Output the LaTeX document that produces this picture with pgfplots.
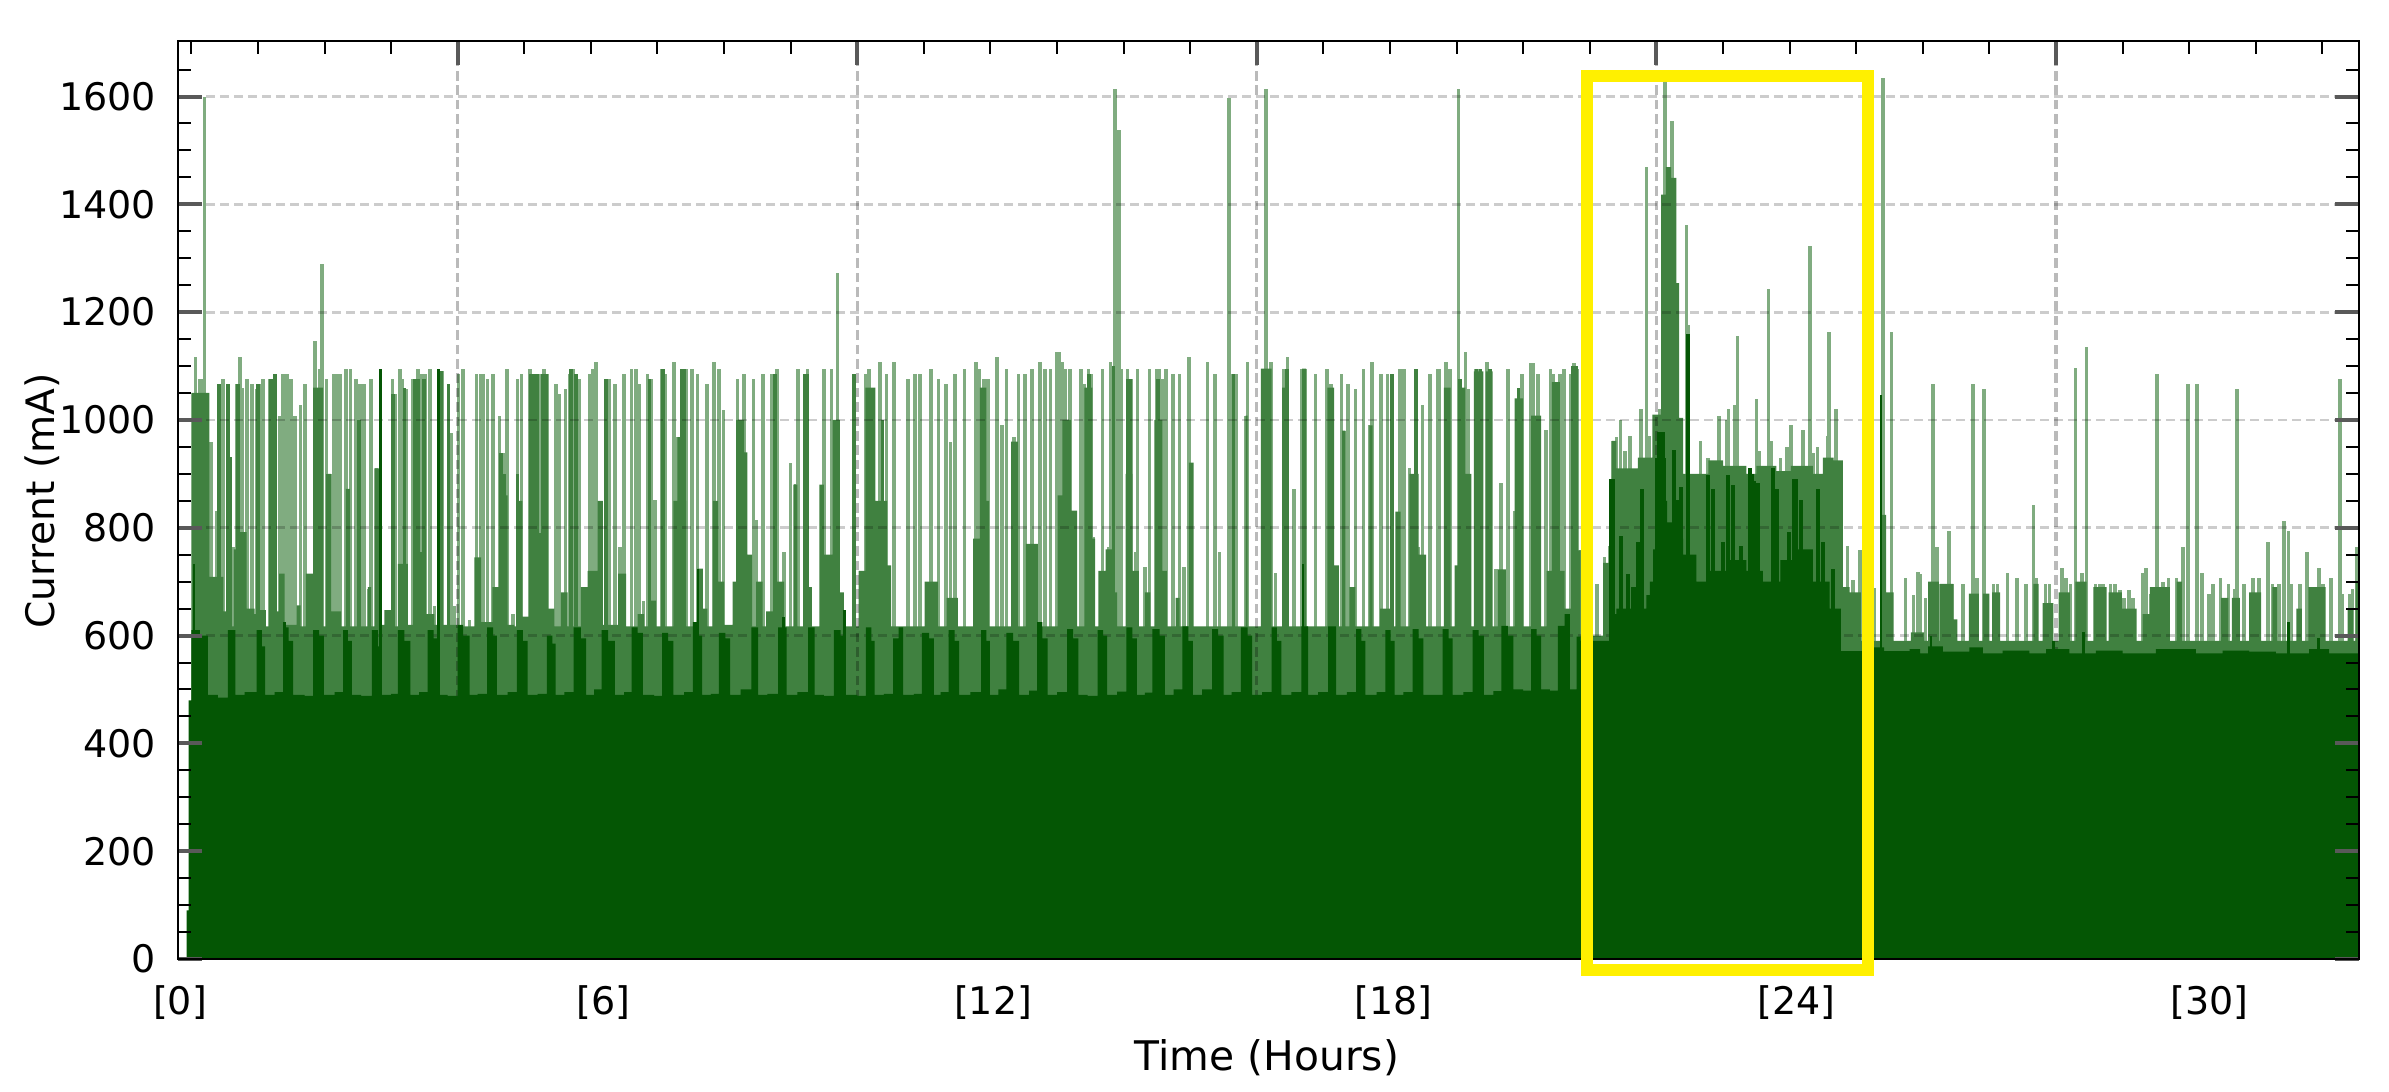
\documentclass[border=0pt]{standalone}
\usepackage{pgfplots}
\pgfplotsset{compat=1.18}
\usepackage{fontspec}
\setmainfont{DejaVu Sans}
\definecolor{lightg}{RGB}{128,172,128}
\definecolor{medg}{RGB}{64,129,64}
\definecolor{darkg}{RGB}{4,86,4}
\definecolor{yel}{RGB}{255,240,0}
\pgfplotsset{layers/chart/.define layer set={axis background,pre main,axis grid,main,axis ticks,axis lines,axis tick labels,axis descriptions,axis foreground}{
  grid style={/pgfplots/on layer=axis grid},
  tick style={/pgfplots/on layer=axis ticks},
  axis line style={/pgfplots/on layer=axis lines},
  label style={/pgfplots/on layer=axis descriptions},
  title style={/pgfplots/on layer=axis descriptions},
  legend style={/pgfplots/on layer=axis foreground},
  colorbar style={/pgfplots/on layer=axis descriptions},
  ticklabel style={/pgfplots/on layer=axis tick labels}}}
\begin{document}
\begin{tikzpicture}
\begin{axis}[
  set layers=chart,
  at={(0,0)},anchor=south west,
  scale only axis,width=545.25pt,height=229.5pt,
  xmin=0,xmax=32.75,ymin=0,ymax=1703,
  clip=false,
  axis line style={black,line width=.6pt},
  tick align=inside,
  xtick pos=upper,xticklabel pos=lower,
  ytick pos=both,yticklabel pos=left,
  xtick={4.2,10.2,16.2,22.2,28.2},
  xticklabels={,,,,},
  minor xtick={0.2,1.2,2.2,3.2,5.2,6.2,7.2,8.2,9.2,11.2,12.2,13.2,14.2,15.2,17.2,18.2,19.2,20.2,21.2,23.2,24.2,25.2,26.2,27.2,29.2,30.2,31.2,32.2},
  ytick={0,200,400,600,800,1000,1200,1400,1600},
  minor ytick={50,100,150,250,300,350,450,500,550,650,700,750,850,900,950,1050,1100,1150,1250,1300,1350,1450,1500,1550,1650},
  major tick length=6pt,minor tick length=3.2pt,
  major tick style={black!65,line width=1pt},
  minor tick style={black,line width=.5pt},
  extra x ticks={0.03,6.39,12.24,18.25,24.3,30.5},
  extra x tick labels={{[0]},{[6]},{[12]},{[18]},{[24]},{[30]}},
  extra x tick style={major tick length=0pt,grid=none,xticklabel pos=lower},
  xmajorgrids,ymajorgrids,
  x grid style={black,opacity=.27,line width=.8pt,dash pattern=on 2.4pt off 1.2pt},
  y grid style={black,opacity=.2,line width=.7pt,dash pattern=on 2.3pt off 1.2pt},
  tick label style={font=\fontsize{9.5}{10}\selectfont,/pgf/number format/assume math mode=true,/pgf/number format/1000 sep={}},
  y tick label style={xshift=-2pt},
  x tick label style={yshift=-3.2pt},
  every axis x label/.style={at={(axis description cs:0.4993,0)},anchor=center,yshift=-24.75pt,font=\fontsize{10.2}{12}\selectfont},
  every axis y label/.style={at={(axis description cs:0,0.499)},anchor=center,rotate=90,yshift=34pt,font=\fontsize{9.8}{12}\selectfont},
  xlabel={Time (Hours)},
  ylabel={Current (mA)},
]
% light spikes
\addplot[on layer=pre main,ycomb,no marks,lightg,line width=.9pt] coordinates {
(0.26,1117)(0.32,1076)(0.36,1076)(0.40,1600)(0.44,1049)(0.50,959)(0.58,832)(0.62,1067)(0.68,1076)(0.75,1067)(0.79,931)(0.84,764)(0.89,1067)(0.93,1117)(0.96,1060)(1.04,1076)(1.11,1067)(1.19,1058)(1.25,1067)(1.28,1076)(1.38,1076)(1.45,1086)(1.53,1008)(1.58,1086)(1.64,1086)(1.70,1076)(1.76,1008)(1.84,1027)(1.91,1067)(1.98,715)(2.06,1146)(2.13,1095)(2.16,1290)(2.23,1076)(2.28,900)(2.34,1086)(2.39,1086)(2.44,1086)(2.52,1095)(2.59,1095)(2.67,1076)(2.73,1067)(2.79,1067)(2.87,687)(2.90,1076)(2.98,910)(3.14,647)(3.22,1076)(3.26,1049)(3.33,1095)(3.36,1076)(3.43,1058)(3.53,1076)(3.60,1095)(3.65,1086)(3.71,1086)(3.78,1095)(3.85,655)(3.96,1090)(4.06,1067)(4.10,975)(4.15,655)(4.21,1086)(4.28,1095)(4.38,628)(4.48,1086)(4.54,1086)(4.59,1086)(4.65,1076)(4.73,1086)(4.83,1008)(4.88,938)(4.94,1095)(5.03,640)(5.10,1076)(5.16,1086)(5.29,1095)(5.34,1086)(5.39,1086)(5.44,1086)(5.50,1095)(5.54,1086)(5.59,647)(5.68,1067)(5.73,1049)(5.82,1058)(5.88,1086)(5.94,1095)(6.03,1076)(6.18,1086)(6.23,1095)(6.28,1107)(6.33,832)(6.43,1076)(6.48,1076)(6.56,1067)
(6.64,764)(6.70,1086)(6.81,1095)(6.88,1095)(6.92,1067)(6.99,665)(7.05,1086)(7.10,1076)(7.16,851)(7.27,1095)(7.31,1086)(7.45,1107)(7.50,968)(7.56,1095)(7.63,1095)(7.72,1095)(7.80,1086)(7.86,724)(7.94,1067)(8.05,1107)(8.12,1095)(8.19,1018)(8.40,1076)(8.50,1086)(8.64,1076)(8.68,814)(8.78,1086)(8.92,1086)(8.99,1095)(9.10,755)(9.20,921)(9.27,882)(9.31,1095)(9.41,1086)(9.45,1095)(9.70,1095)(9.81,1095)(9.90,1272)(10.16,1086)(10.33,1086)(10.38,1095)(10.54,1107)(10.64,1086)(10.75,1107)(10.96,1076)(11.07,1086)(11.14,1086)(11.31,1095)(11.42,1076)(11.53,1067)(11.60,959)(11.67,1086)(11.81,1095)(11.98,1107)(12.03,1095)(12.10,1076)(12.16,1076)(12.30,1117)(12.37,990)(12.44,1095)(12.55,968)(12.62,1086)(12.72,1086)(12.82,1095)(12.94,1107)(13.02,1095)(13.10,1095)(13.19,1126)
(13.23,1126)(13.27,1107)(13.32,1095)(13.39,1095)(13.46,832)(13.56,1095)(13.61,1067)(13.67,1095)(13.71,1086)(13.75,783)(13.88,1095)(13.98,764)(14.00,1107)(14.07,1614)(14.13,1538)(14.16,1095)(14.26,1095)(14.31,1076)(14.38,755)(14.41,1095)(14.52,727)(14.59,1095)(14.70,1095)(14.73,1095)(14.79,1076)(14.84,1095)(14.94,1086)(15.04,1086)(15.11,727)(15.18,1117)(15.22,921)(15.46,1107)(15.57,1086)(15.64,755)(15.78,1597)(15.83,1086)(15.89,1086)(16.03,1008)(16.06,1107)(16.30,1030)(16.34,1614)(16.41,1107)(16.48,716)(16.60,1095)(16.66,1117)(16.76,872)(16.88,1095)(16.92,1095)(17.08,1086)(17.25,1095)(17.31,1067)(17.47,1086)(17.51,980)(17.57,1067)(17.68,1058)(17.80,1095)(17.90,990)(17.93,1107)(18.06,1086)(18.16,1086)(18.23,1086)(18.35,1095)(18.41,1095)(18.49,910)(18.59,1095)(18.63,764)(18.69,1027)(18.80,1086)(18.91,1095)(18.94,1095)(19.04,1107)(19.10,1095)(19.23,1614)(19.33,1126)(19.37,1058)(19.49,1095)(19.54,1095)(19.66,1107)(19.71,1095)(19.79,724)
(19.87,883)(19.97,1094)(20.08,832)(20.13,1059)(20.18,1086)(20.31,1106)(20.35,1106)(20.42,1086)(20.54,981)(20.61,1094)(20.65,1086)(20.70,1067)(20.75,1086)(20.81,1094)(20.91,1086)(20.96,1106)(21.01,1094)(21.05,758)
(21.31,696)(21.42,746)(21.50,766)(21.55,961)(21.60,969)(21.66,1000)(21.73,942)(21.80,971)(21.97,1020)(22.05,1469)(22.09,971)(22.18,1008)(22.25,1020)(22.33,1627)(22.43,1555)(22.51,1254)(22.65,1361)(22.68,1176)(22.86,961)(22.97,930)(23.14,1008)(23.25,1000)(23.28,1020)(23.38,1028)(23.42,1156)(23.70,1039)(23.74,942)(23.88,1242)(23.92,961)(24.06,930)(24.16,949)(24.22,990)(24.40,981)(24.51,1322)(24.56,938)(24.62,949)(24.77,971)(24.79,1164)(24.90,1020)(25.07,766)(25.15,703)(25.26,758)(25.47,688)(25.60,1635)(25.73,1164)(25.94,707)(26.06,676)(26.13,717)
(26.16,715)(26.24,669)(26.35,1067)(26.41,764)(26.47,696)(26.54,696)(26.59,794)(26.64,696)(26.80,696)(26.95,1067)(27.01,706)(27.12,1058)(27.26,696)(27.32,696)(27.47,716)(27.61,706)(27.75,696)(27.86,843)(27.91,706)(28.04,696)(28.10,696)(28.29,726)(28.35,706)(28.42,696)(28.49,1096)(28.59,716)(28.66,1135)(28.79,696)(28.86,696)(28.91,696)(29.02,696)(29.09,696)(29.16,684)(29.22,669)(29.30,684)(29.36,669)(29.51,716)(29.55,725)(29.62,678)(29.72,1086)(29.81,700)(29.89,707)(30.01,707)(30.11,764)(30.18,1067)(30.32,1067)(30.39,716)(30.50,678)(30.56,696)(30.67,707)(30.79,696)(30.89,687)(30.92,1058)(31.02,696)(31.16,707)(31.25,707)(31.38,774)(31.45,696)(31.55,696)(31.62,812)(31.69,794)(31.73,696)(31.86,696)(31.97,755)(32.15,725)(32.21,696)(32.33,707)(32.46,1076)(32.50,678)(32.61,678)(32.65,687)(32.71,764)
};
% medium spikes
\addplot[on layer=pre main,ycomb,no marks,medg,line width=.9pt] coordinates {
(0.62,1067)(0.75,1067)(0.79,931)(0.90,1067)(1.20,1067)(1.40,1076)(1.46,1086)(2.25,900)(2.56,872)(2.72,1000)(3.23,1049)(3.40,1060)(3.55,1076)(3.60,1076)(3.69,1076)(3.95,1090)(4.06,1067)(4.85,938)(4.90,900)(5.10,900)(5.30,1086)(5.35,1086)(5.40,1086)(5.48,1086)(5.53,1086)(5.90,1095)(5.98,1086)(6.35,832)(6.43,1076)
(7.08,1076)(7.28,1095)(7.56,1095)(7.60,1095)(8.96,1086)(9.41,1086)(9.45,1086)(10.15,1086)(10.58,1000)(12.57,960)
(13.68,1086)(14.05,1100)(14.26,1076)(14.30,1076)(14.72,1076)(15.85,1086)(16.65,1095)(18.23,1086)(18.59,1095)(19.25,1076)(19.50,1095)(19.56,1095)(19.70,1095)(20.13,1059)
};
% medium body
\addplot[on layer=pre main,const plot,draw=none,fill=medg] coordinates {
(0.17,0)(0.20,1050)(0.47,709)(0.68,645)(0.78,617)(0.84,760)(0.90,792)(1.03,650)(1.15,640)(1.22,647)(1.32,617)(1.40,645)(1.52,715)(1.60,620)(1.78,656)(1.84,617)(1.92,715)(2.03,1060)(2.18,617)(2.25,900)(2.30,645)(2.45,617)(2.52,872)(2.58,617)(2.85,690)(2.90,617)(2.95,910)(3.03,620)(3.10,647)(3.20,617)(3.30,733)(3.45,620)(3.53,755)(3.72,640)(3.85,620)(4.20,617)(4.45,745)(4.55,625)(4.72,690)(4.85,860)(4.95,620)(5.05,617)(5.10,850)(5.17,635)(5.30,790)(5.55,650)(5.65,617)(5.75,680)(5.85,617)(6.05,690)(6.15,720)(6.30,850)(6.38,620)
(6.61,715)(6.73,617)(6.90,640)(7.00,617)(7.06,665)(7.18,617)(7.44,850)(7.50,968)(7.55,850)(7.63,617)(7.80,724)(7.88,650)(7.95,617)(8.03,850)(8.11,700)(8.20,620)(8.33,700)(8.38,1000)(8.50,940)(8.55,750)(8.62,617)(8.68,700)(8.78,617)(8.83,645)(8.98,700)(9.10,617)(9.24,880)(9.30,617)(9.45,690)(9.52,617)(9.63,880)(9.70,750)(9.83,1000)(9.94,680)(10.00,617)(10.22,720)(10.32,1060)(10.47,850)(10.65,730)(10.71,617)(11.21,700)(11.41,617)(11.54,670)(11.71,617)(11.94,780)(12.04,1060)(12.14,850)(12.18,617)(12.51,960)(12.61,617)(12.73,770)(12.91,617)
(13.21,860)(13.28,1000)(13.41,832)(13.50,617)(13.61,1060)(13.73,780)(13.77,617)(13.82,720)(13.93,760)(14.06,680)(14.10,617)(14.23,900)(14.33,720)(14.43,617)(14.52,680)(14.60,617)(14.66,1000)(14.78,720)(14.85,617)(14.98,670)(15.04,617)(15.18,921)(15.25,617)(16.03,1008)(16.06,617)(16.26,1095)(16.42,617)(16.58,1060)(16.68,617)(16.88,1095)(16.94,617)(17.26,1060)(17.36,730)(17.43,617)(17.48,980)(17.53,617)(17.59,690)(17.68,617)(17.89,990)(17.94,617)(18.05,650)(18.21,617)(18.28,830)(18.36,617)(18.49,900)(18.63,750)(18.74,617)(19.01,1060)(19.11,617)(19.17,730)(19.23,1060)(19.33,900)(19.42,617)(19.46,1090)(19.60,617)(19.64,1090)(19.74,617)
(19.82,723)(19.94,617)(20.07,1040)(20.20,617)(20.32,1008)(20.47,617)(20.55,720)(20.63,1070)(20.75,720)(20.82,650)(20.92,1100)(21.02,758)(21.06,600)(21.40,735)(21.53,961)(21.60,910)(21.92,930)(22.14,1010)(22.27,1418)(22.34,1469)(22.42,1449)(22.50,1254)(22.54,1004)(22.60,900)(22.98,925)(23.20,915)(23.55,900)(23.70,915)(24.00,905)(24.22,915)(24.55,900)(24.70,930)(24.86,925)(25.00,690)(25.10,680)(25.27,590)(25.59,824)(25.65,680)(25.76,590)(26.02,606)(26.22,590)
(26.28,700)(26.44,590)(26.46,696)(26.66,630)(26.72,590)(26.89,678)(27.04,590)(27.10,678)(27.20,590)(27.24,680)(27.36,590)(27.86,696)(27.94,590)(28.00,660)(28.16,590)(28.24,680)(28.41,590)(28.49,700)(28.66,590)(28.76,690)(28.96,590)(28.99,680)(29.19,650)(29.41,590)(29.50,640)(29.61,690)(29.91,590)(30.01,700)(30.09,590)(30.68,670)(30.79,590)(30.84,670)(30.96,590)(31.10,680)(31.28,590)(31.45,690)(31.52,590)(31.81,650)(31.89,590)(31.99,690)(32.25,590)(32.58,650)(32.66,590)(32.70,700)(32.75,700)
} \closedcycle;
% dark body
\addplot[on layer=main,const plot,draw=none,fill=darkg] coordinates {
(0.10,0)(0.13,90)(0.16,480)(0.20,610)(0.33,600)(0.45,490)(0.60,485)
(0.75,610)(0.86,490)(1.00,495)(1.18,610)(1.26,580)(1.31,490)(1.45,495)(1.58,615)(1.66,590)(1.73,490)(1.90,488)(2.03,610)(2.12,600)(2.19,490)(2.35,495)(2.48,610)(2.55,590)(2.61,490)(2.75,488)(2.91,610)(3.00,580)(3.06,490)(3.20,492)(3.30,610)(3.40,590)(3.49,490)(3.62,495)(3.75,610)(3.84,595)(3.91,490)(4.05,488)(4.20,620)(4.28,600)(4.38,490)(4.50,492)(4.64,615)(4.73,600)(4.79,490)(4.95,495)(5.09,610)(5.18,590)(5.25,490)(5.40,492)(5.54,600)(5.62,585)(5.67,490)(5.80,495)(5.94,615)(6.05,595)(6.13,490)(6.25,500)(6.36,610)(6.46,590)(6.56,490)
(6.70,495)(6.81,615)(6.90,605)(6.98,490)(7.15,488)(7.27,605)(7.36,590)(7.44,490)(7.60,495)(7.73,625)(7.80,600)(7.87,490)(8.00,492)(8.12,605)(8.22,595)(8.29,490)(8.45,500)(8.61,615)(8.71,490)(8.85,492)(9.01,615)(9.14,490)(9.30,495)(9.46,615)(9.56,490)(9.70,488)(9.85,610)(9.95,600)(10.01,490)(10.20,488)(10.33,615)(10.41,590)(10.46,490)(10.60,492)(10.74,595)(10.82,615)(10.89,490)(11.05,492)(11.17,605)(11.28,595)(11.35,490)(11.45,495)(11.57,610)(11.66,590)(11.73,490)(11.90,495)(12.06,610)(12.14,590)(12.19,490)(12.32,500)(12.44,605)(12.54,590)(12.63,490)(12.78,498)(12.90,625)(12.98,595)(13.06,490)(13.20,495)
(13.35,612)(13.44,595)(13.52,490)(13.66,488)(13.81,610)(13.89,600)(13.95,490)(14.10,496)(14.24,615)(14.33,595)(14.40,490)(14.52,494)(14.63,612)(14.74,600)(14.82,490)(14.95,500)(15.08,617)(15.17,590)(15.24,490)(15.38,500)(15.53,612)(15.62,600)(15.70,490)(15.82,495)(15.96,615)(16.06,600)(16.13,490)(16.28,495)(16.42,615)(16.50,590)(16.57,490)(16.72,495)(16.87,617)(16.97,490)(17.12,495)(17.27,617)(17.39,490)(17.55,495)(17.69,612)(17.77,590)(17.83,490)(18.00,495)(18.13,610)(18.21,590)(18.27,490)(18.40,495)(18.54,612)(18.63,595)(18.70,490)(18.85,490)(18.99,612)(19.08,595)(19.14,490)(19.30,495)(19.44,610)(19.53,600)(19.61,490)(19.75,497)
(19.87,618)(19.97,600)(20.05,500)(20.20,498)(20.32,612)(20.40,600)(20.47,500)(20.60,498)(20.72,618)(20.82,640)(20.90,500)(21.00,598)
(21.06,590)(21.52,640)(21.60,650)(21.82,690)(21.97,650)(22.05,675)(22.10,700)(22.15,760)(22.25,850)(22.36,810)(22.47,780)(22.60,750)(22.80,700)(23.00,720)(23.30,740)(23.55,720)(23.80,700)(24.06,740)(24.30,760)(24.55,700)(24.80,650)(24.97,571)
(25.47,578)(25.62,571)(26.00,575)(26.16,567)(26.28,580)(26.50,570)(26.90,578)(27.10,567)(27.40,572)(27.80,567)(28.05,575)(28.40,567)(28.80,572)(29.20,567)(29.70,575)(30.30,567)(30.70,572)(31.10,570)(31.50,567)(32.00,575)(32.30,567)(32.75,567)
} \closedcycle;
% narrow dark spikes
\addplot[on layer=main,ycomb,no marks,darkg,line width=.6pt] coordinates {
(0.24,733)(1.60,625)(3.04,1095)(3.91,1095)(7.81,724)(9.09,635)(10.01,647)(16.89,733)(25.57,1047)(26.32,600)(28.16,590)(28.61,607)(31.69,625)(32.14,595)
};
% dark spikes in the highlighted stretch
\addplot[on layer=main,ycomb,no marks,darkg,line width=1pt] coordinates {
(21.52,891)(21.55,891)(21.67,785)(21.78,715)(21.92,774)(21.99,871)(22.21,930)(22.24,977)(22.27,977)(22.30,977)(22.32,930)(22.46,945)(22.52,852)(22.57,875)(22.67,1160)(22.98,898)(23.05,871)(23.20,774)(23.27,898)(23.35,879)(23.47,766)(23.60,910)(23.63,900)(23.67,887)(23.73,883)(23.95,910)(24.01,871)(24.19,793)(24.27,891)(24.30,891)(24.37,852)(24.63,871)(24.70,774)(24.85,723)
};
% highlight box
\addplot[on layer=axis foreground,no marks,yel,line width=3pt,line join=miter,line cap=rect] coordinates {
(21.156,-20.4)(25.375,-20.4)(25.375,1638)(21.156,1638)(21.156,-20.4)
};
\end{axis}
\pgfresetboundingbox
\useasboundingbox (-44.5pt,-33.25pt) rectangle (552.75pt,239.75pt);
\end{tikzpicture}
\end{document}
